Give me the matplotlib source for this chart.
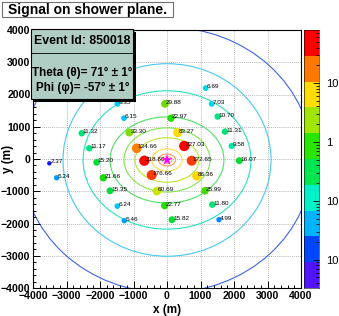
import numpy as np
import matplotlib
matplotlib.use("Agg")
import matplotlib.pyplot as plt
from matplotlib.patches import Ellipse, Rectangle
from matplotlib.lines import Line2D
from matplotlib.colors import LinearSegmentedColormap, Normalize
from matplotlib.ticker import MultipleLocator, FixedLocator, LogLocator, NullFormatter

plt.rcParams['font.family'] = ['Liberation Sans', 'DejaVu Sans']

# ---------------- data ----------------
station_x = [1155, 1334, -1484, -60, -1284, 119, 1513, -1125, 319, 1731,
             -904, 516, 1931, -678, 737, 2158, -457, 887, -3513, -3293,
             -2546, -2319, -2098, -1901, -1701, -299, -1484, -69, -1275, 149,
             1134, 1352, 1552]
station_y = [2199, 1710, 1710, 1710, 1266, 1266, 1316, 818, 818, 849,
             333, 404, 404, -53, -53, -53, -498, -529, -134, -582,
             799, 333, -103, -582, -986, -995, -1462, -1446, -1913, -1882,
             -986, -1415, -1882]
signal = [6.69, 7.03, 6.35, 29.88, 6.15, 22.97, 10.70, 33.30, 83.27, 11.31,
          134.66, 227.03, 9.58, 218.80, 172.65, 16.07, 176.66, 86.36, 2.37, 5.24,
          11.32, 11.17, 15.20, 21.66, 15.35, 60.69, 6.24, 22.77, 5.46, 15.82,
          25.99, 11.80, 4.99]

core_x, core_y = 0, -30
ring_rx = [150, 255, 450, 955, 1285, 1700, 2505, 3105, 4340]
ring_ry = [110, 185, 345, 690, 995, 1335, 2145, 2985, 4117]
ring_colors = ['#ffaa96', '#ff9650', '#ffdc46', '#bee628', '#82e650',
               '#50e164', '#28e1be', '#46c8f0', '#3c64e6']

event_id = 850018
theta, theta_err = 71, 1
phi, phi_err = -57, 1

xticks = [-4000, -3000, -2000, -1000, 0, 1000, 2000, 3000, 4000]
yticks = [-4000, -3000, -2000, -1000, 0, 1000, 2000, 3000, 4000]

cbar_lo, cbar_hi = -2.48, 1.9
cbar_ticks = [0.01, 0.1, 1, 10]
cbar_ticklabels = ["10", "10", "1", "10"]
band_colors = ['#5014ff', '#0046ff', '#00b4ff', '#00f0c8', '#00e650',
               '#28e600', '#a0e600', '#ffdc00', '#ff7800', '#ff0000']

# palette for station markers (position on log10(signal) -> colour)
pal_pos = [0.30, 0.42, 0.70, 0.74, 0.82, 0.98, 1.05, 1.18, 1.35, 1.52,
           1.78, 1.93, 2.13, 2.24, 2.36]
pal_col = ['#3c00ff', '#0028f0', '#008cff', '#00a5ff', '#00d7eb', '#00e6a0',
           '#00e178', '#00dc3c', '#1edc00', '#82dc00', '#c8e600', '#ffdc00',
           '#ff8200', '#ff3c00', '#ff0000']

# ---------------- figure ----------------
W, H = 339, 316
fig = plt.figure(figsize=(W / 100, H / 100), dpi=100)
fig.patch.set_facecolor('white')

ax = fig.add_axes([33 / W, 28 / H, 268 / W, 258 / H])
cax = fig.add_axes([304 / W, 28 / H, 15 / W, 258 / H])

ax.set_xlim(-4000, 4000)
ax.set_ylim(-4000, 4000)

# grid
for v in xticks[1:-1]:
    ax.axvline(v, color='#a0a0a0', lw=0.6, ls=(0, (1, 1.5)), zorder=0)
for v in yticks[1:-1]:
    ax.axhline(v, color='#a0a0a0', lw=0.6, ls=(0, (1, 1.5)), zorder=0)

# rings
for rx, ry, c in zip(ring_rx, ring_ry, ring_colors):
    ax.add_patch(Ellipse((core_x, core_y), 2 * rx, 2 * ry, fill=False,
                         edgecolor=c, lw=0.8, zorder=1))

# stations
lmin, lmax = pal_pos[0], pal_pos[-1]
cmap = LinearSegmentedColormap.from_list(
    'pal', [((p - lmin) / (lmax - lmin), c) for p, c in zip(pal_pos, pal_col)])
logs = np.log10(signal)
colors = cmap(Normalize(lmin, lmax)(logs))
diam_px = 3.3 + 3.0 * logs
sizes = (diam_px * 0.72) ** 2
ax.scatter(station_x, station_y, s=sizes, c=colors, edgecolors='none', zorder=3)
for xx, yy, s in zip(station_x, station_y, signal):
    ax.annotate(f"{s:.2f}", (xx, yy), xytext=(0.8, 1.0), textcoords='offset points',
                fontsize=4.6, ha='left', va='center', color='black', zorder=4)

ax.scatter([core_x], [core_y], marker='*', s=70, color='#ff00ff', edgecolors='none', zorder=5)

# axes style
ax.set_xticks(xticks)
ax.set_yticks(yticks)
ax.xaxis.set_minor_locator(MultipleLocator(200))
ax.yaxis.set_minor_locator(MultipleLocator(200))
ax.tick_params(which='both', direction='in', top=False, right=False, width=0.7)
ax.tick_params(which='major', length=5, labelsize=7.6)
ax.tick_params(axis='x', which='major', pad=2.5)
ax.tick_params(axis='y', which='major', pad=1.8)
ax.tick_params(which='minor', length=2.5)
for lab in ax.get_xticklabels() + ax.get_yticklabels():
    lab.set_fontweight('bold')
for sp in ax.spines.values():
    sp.set_linewidth(0.8)
ax.set_xlabel("x (m)", fontsize=8.5, fontweight='bold')
ax.set_ylabel("y (m)", fontsize=8.5, fontweight='bold', va='center')
ax.xaxis.set_label_coords(0.5, -0.062)
ax.yaxis.set_label_coords(-0.093, 0.5)

# colorbar
edges = np.logspace(cbar_lo, cbar_hi, len(band_colors) + 1)
cax.set_yscale('log')
for i, c in enumerate(band_colors):
    cax.axhspan(edges[i], edges[i + 1], color=c, lw=0)
cax.set_xlim(0, 1)
cax.set_ylim(edges[0], edges[-1])
cax.set_xticks([])
cax.yaxis.tick_right()
cax.yaxis.set_major_locator(FixedLocator(cbar_ticks))
cax.set_yticklabels(cbar_ticklabels)
cax.yaxis.set_minor_locator(LogLocator(subs=np.arange(2, 10)))
cax.yaxis.set_minor_formatter(NullFormatter())
cax.tick_params(axis='y', which='both', direction='in', left=False, right=True, width=0.6)
cax.tick_params(axis='y', which='major', length=4, labelsize=8, pad=5)
cax.tick_params(axis='y', which='minor', length=2)
for sp in cax.spines.values():
    sp.set_linewidth(0.4)


def fx(px):
    return px / W


def fy(py):
    return 1 - py / H


# title box
fig.patches.append(Rectangle((fx(2), fy(17)), (173 - 2) / W, 15.3 / H,
                             transform=fig.transFigure, facecolor='white',
                             edgecolor='#707070', lw=0.8, zorder=5))
fig.text(fx(8), fy(9.6), "Signal on shower plane.", fontsize=10, fontweight='bold',
         ha='left', va='center', zorder=6)

# event box with shadow
bx0, by0, bx1, by1 = 31, 29, 133, 99
fig.patches.append(Rectangle((fx(bx0 + 3), fy(by1 + 3)), (bx1 - bx0) / W, (by1 - by0) / H,
                             transform=fig.transFigure, facecolor='black',
                             edgecolor='none', zorder=5))
fig.patches.append(Rectangle((fx(bx0), fy(by1)), (bx1 - bx0) / W, (by1 - by0) / H,
                             transform=fig.transFigure, facecolor='#afcdc3',
                             edgecolor='black', lw=0.8, zorder=6))
fig.lines.append(Line2D([fx(bx0), fx(bx1)], [fy(53), fy(53)], transform=fig.transFigure,
                        color='black', lw=0.6, zorder=7))
fig.text(fx(82), fy(41), f"Event Id: {event_id}", fontsize=8.8, fontweight='bold',
         ha='center', va='center', zorder=8)
fig.text(fx(82), fy(72.5), f"Theta (\u03b8)= {theta}\u00b0 \u00b1 {theta_err}\u00b0",
         fontsize=8.4, fontweight='bold', ha='center', va='center', zorder=8)
fig.text(fx(83), fy(88), f"Phi (\u03c6)= {phi}\u00b0 \u00b1 {phi_err}\u00b0",
         fontsize=8.4, fontweight='bold', ha='center', va='center', zorder=8)

fig.savefig("out.png", dpi=100, facecolor='white')
